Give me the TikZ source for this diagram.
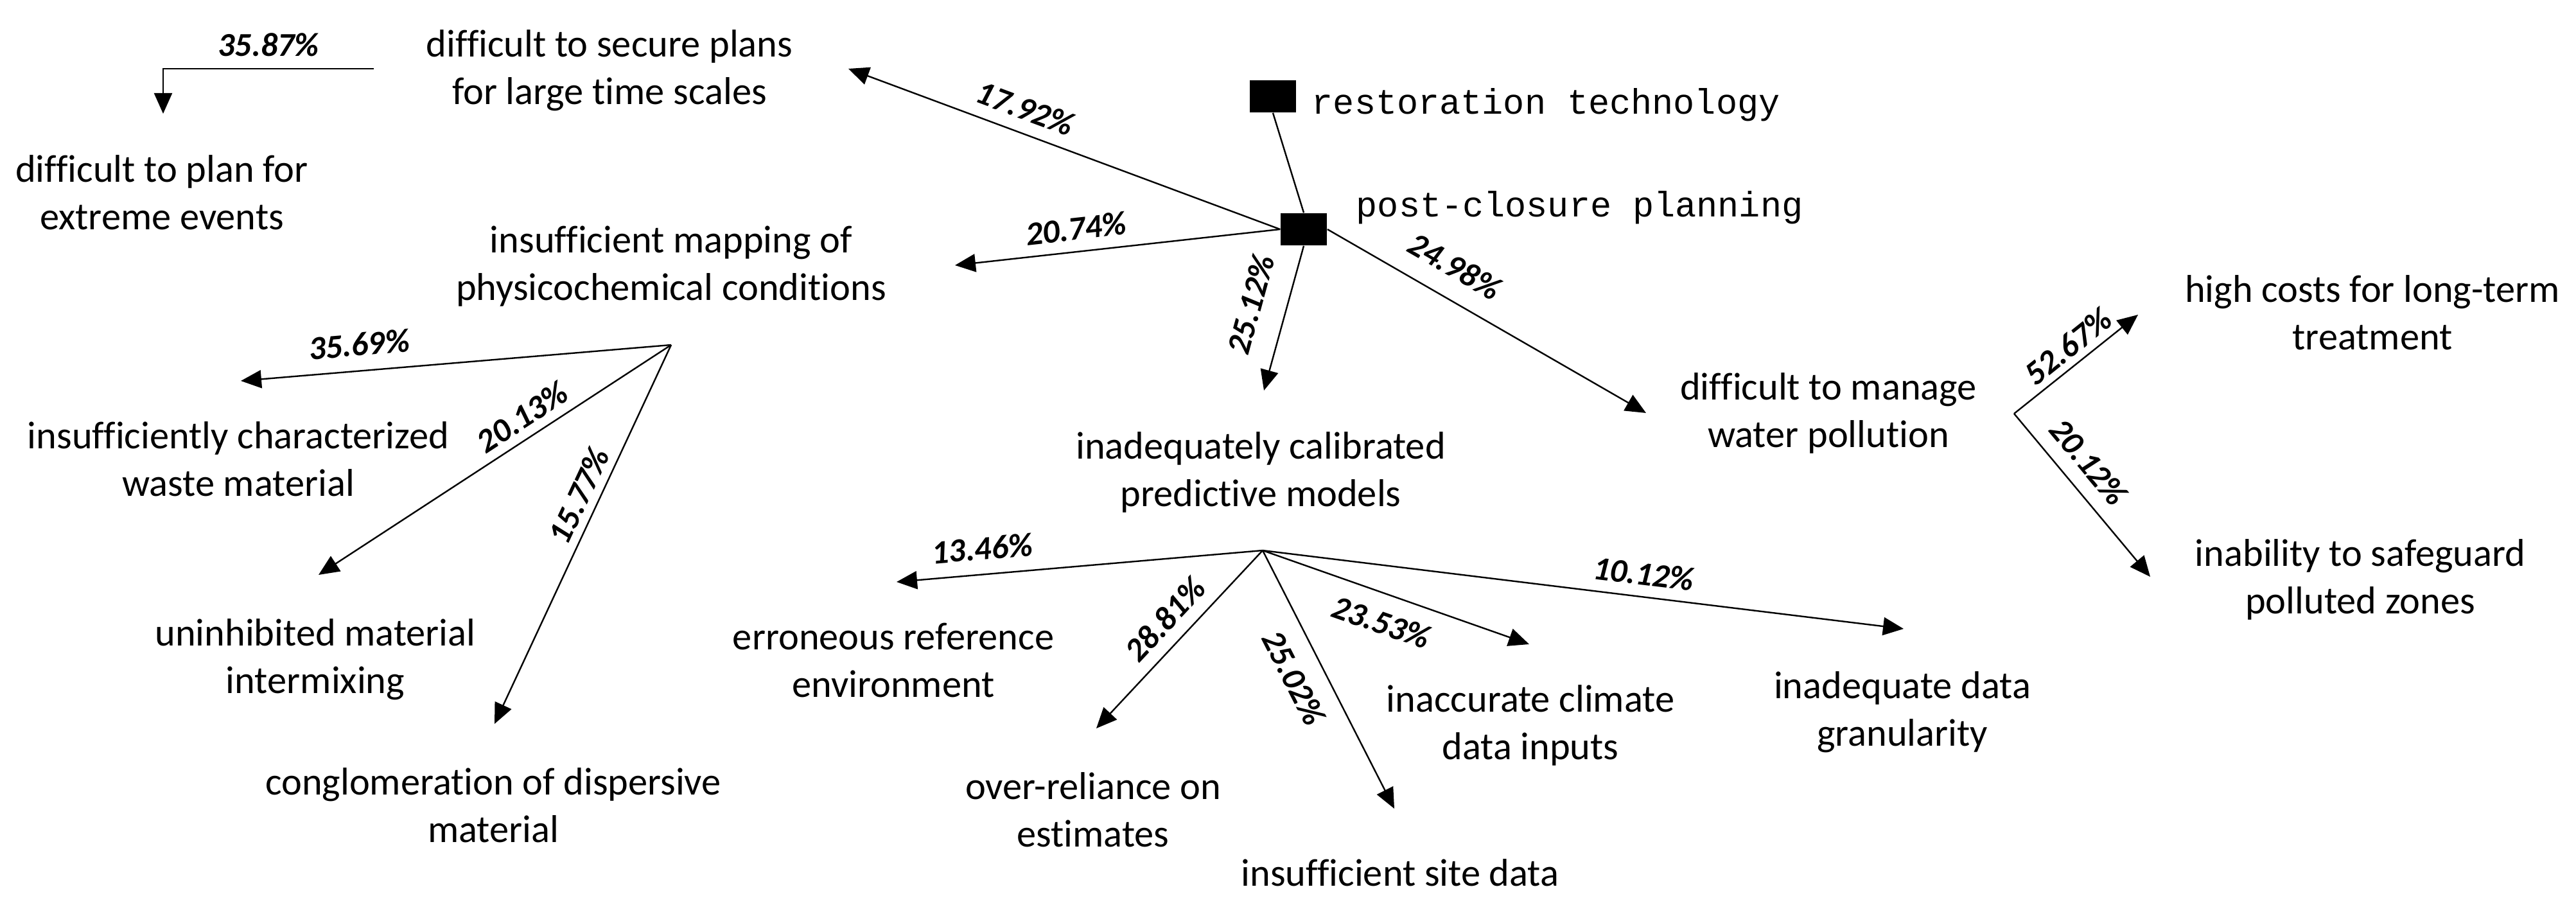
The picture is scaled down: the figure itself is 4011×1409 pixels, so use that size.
\documentclass[tikz,border=0pt]{standalone}
\usepackage{fontspec}
\setmainfont{Carlito}[Ligatures=NoCommon]
\newfontfamily\monofont{Liberation Mono}
\usetikzlibrary{arrows.meta}
\tikzset{>={Triangle[length=8pt,width=7pt]}}
\tikzset{
  txt/.style={align=center,font=\fontsize{15.1}{18.5}\selectfont,inner sep=0pt,anchor=base},
  pct/.style={font=\fontsize{13}{15}\selectfont\bfseries\itshape,inner sep=1pt},
  blk/.style={fill=black,minimum width=18pt,minimum height=12.5pt,inner sep=0pt},
  mono/.style={font=\monofont\fontsize{13.8}{16}\selectfont,inner sep=0pt,anchor=base west},
  arr/.style={->,line width=0.6pt}
}

\begin{document}
\begin{tikzpicture}[x=0.25pt,y=-0.25pt]
		\useasboundingbox (0,0) rectangle (4011,1409);
		% the two black boxes
		\node[blk] (rt) at (1982,150) {};
		\node[blk] (pc) at (2030,357) {};
		\node[mono] (rtlab) at (2042,178) {restoration technology};
		\node[mono] (pclab) at (2111,338) {post-closure planning};
		\draw[line width=0.6pt] (rt.south) -- (pc.north);
		
		% texts, placed at the baseline of their last line
		\node[txt] (plan) at (949,163) {difficult to secure plans\\for large time scales};
		\node[txt] (extreme) at (252,358) {difficult to plan for\\extreme events};
		\node[txt] (mapping) at (1045,468) {insufficient mapping of\\physicochemical conditions};
		\node[txt] (waste) at (371,773) {insufficiently characterized\\waste material};
		\node[txt] (intermix) at (491,1079) {uninhibited material\\intermixing};
		\node[txt] (conglom) at (768,1311) {conglomeration of dispersive\\material};
		\node[txt] (models) at (1963,789) {inadequately calibrated\\predictive models};
		\node[txt] (erron) at (1391,1085) {erroneous reference\\environment};
		\node[txt] (overrel) at (1702,1318) {over-reliance on\\estimates};
		\node[txt] (site) at (2180,1379) {insufficient site data};
		\node[txt] (climate) at (2383,1182) {inaccurate climate\\data inputs};
		\node[txt] (granul) at (2962,1161) {inadequate data\\granularity};
		\node[txt] (water) at (2847,697) {difficult to manage\\water pollution};
		\node[txt] (costs) at (3694,545) {high costs for long-term\\treatment};
		\node[txt] (safeg) at (3675,956) {inability to safeguard\\polluted zones};
		
		% forks and arrow tips
		\coordinate (planfork) at (582,107);
		\coordinate (mapfork) at (1045,537);
		\coordinate (modfork) at (1966,857);
		\coordinate (watfork) at (3136,644);
		\coordinate (plantip) at (1321,107);
		\coordinate (maptip) at (1487,413);
		\coordinate (modtip) at (1968,608);
		\coordinate (wattip) at (2563,643);
		\coordinate (exttip) at (254,177);
		\coordinate (wastip) at (375,593);
		\coordinate (mixtip) at (496,895);
		\coordinate (cgltip) at (770,1127);
		\coordinate (errtip) at (1396,906);
		\coordinate (esttip) at (1707,1134);
		\coordinate (sitetip) at (2171,1259);
		\coordinate (clitip) at (2381,1003);
		\coordinate (grantip) at (2964,979);
		\coordinate (costtip) at (3329,490);
		\coordinate (safetip) at (3348,898);
		
		% from post-closure planning
		\draw[arr] (pc.west) -- node[pct,sloped,above=3.7pt,pos=0.61] {17.92\%} (plantip);
		\draw[arr] (pc.west) -- node[pct,sloped,above=3.2pt,pos=0.62] {20.74\%} (maptip);
		\draw[arr] (pc.south) -- node[pct,sloped,above=8pt,pos=0.47] {25.12\%} (modtip);
		\draw[arr] (pc.east) -- node[pct,sloped,above=6.5pt,pos=0.35] {24.98\%} (wattip);
		\draw[arr] (planfork) -| node[pct,above=3.5pt,pos=0.25] {35.87\%} (exttip);% elbow
		
		% from physicochemical conditions
		\draw[arr] (mapfork) -- node[pct,sloped,above=4.5pt,pos=0.72] {35.69\%} (wastip);
		\draw[arr] (mapfork) -- node[pct,sloped,above=2.3pt,pos=0.39] {20.13\%} (mixtip);
		\draw[arr] (mapfork) -- node[pct,sloped,above=2pt,pos=0.42] {15.77\%} (cgltip);
		
		% from predictive models
		\draw[arr] (modfork) -- node[pct,sloped,above=4.3pt,pos=0.76] {13.46\%} (errtip);
		\draw[arr] (modfork) -- node[pct,sloped,above=3.6pt,pos=0.48] {28.81\%} (esttip);
		\draw[arr] (modfork) -- node[pct,sloped,below=5.8pt,pos=0.44] {25.02\%} (sitetip);
		\draw[arr] (modfork) -- node[pct,sloped,below=5.2pt,pos=0.48] {23.53\%} (clitip);
		\draw[arr] (modfork) -- node[pct,sloped,above=3.2pt,pos=0.59] {10.12\%} (grantip);
		
		% from water pollution
		\draw[arr] (watfork) -- node[pct,sloped,above=1.5pt,pos=0.53] {52.67\%} (costtip);
		\draw[arr] (watfork) -- node[pct,sloped,above=4.4pt,pos=0.40] {20.12\%} (safetip);
\end{tikzpicture}
\end{document}
